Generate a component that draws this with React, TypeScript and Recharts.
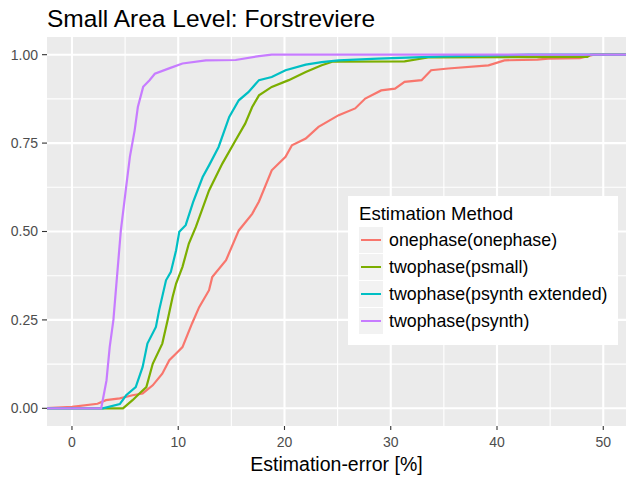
import { CartesianGrid, Legend, Line, LineChart, XAxis, YAxis } from "recharts";

// ECDF curves (x = estimation error in %, y = cumulative share)
const onephaseX = [-3, 0.0, 2.4, 3.2, 4.5, 5.7, 6.65, 7.6, 8.5, 9.16, 9.8, 10.4, 11.3, 11.97, 12.9, 13.2, 14.5, 15.7, 16.96, 17.6, 18.8, 20.1, 20.7, 22.0, 23.2, 25.1, 26.65, 27.6, 29.1, 30.4, 31.3, 32.9, 33.8, 35.4, 39.2, 40.7, 43.8, 44.8, 47.8, 49.1, 53];
const onephaseY = [0, 0.004, 0.013, 0.023, 0.028, 0.037, 0.042, 0.065, 0.098, 0.136, 0.155, 0.173, 0.24, 0.286, 0.334, 0.371, 0.419, 0.503, 0.55, 0.585, 0.673, 0.711, 0.744, 0.763, 0.796, 0.829, 0.848, 0.876, 0.899, 0.904, 0.923, 0.928, 0.956, 0.961, 0.97, 0.984, 0.986, 0.989, 0.99, 1.0, 1.0];

const psmallX = [-3, 4.8, 5.7, 6.35, 7.0, 7.6, 8.5, 9.0, 9.47, 9.8, 10.4, 11.0, 11.66, 12.9, 14.15, 15.4, 16.3, 16.96, 17.6, 18.8, 20.4, 22.0, 23.5, 24.5, 31.3, 33.5, 48.5, 48.8, 53];
const psmallY = [0, 0, 0.023, 0.042, 0.06, 0.126, 0.183, 0.249, 0.315, 0.353, 0.4, 0.466, 0.513, 0.616, 0.692, 0.758, 0.805, 0.852, 0.885, 0.909, 0.928, 0.951, 0.97, 0.98, 0.981, 0.992, 0.994, 1.0, 1.0];

const psynthExtX = [-3, 2.9, 4.5, 5.1, 6.0, 6.65, 7.1, 7.9, 8.2, 8.85, 9.3, 9.8, 10.1, 10.7, 11.4, 12.3, 12.9, 13.8, 14.8, 15.7, 16.6, 17.6, 18.8, 20.1, 22.0, 23.5, 25.1, 28.8, 35, 43, 53];
const psynthExtY = [0, 0, 0.012, 0.037, 0.06, 0.117, 0.183, 0.23, 0.277, 0.362, 0.385, 0.447, 0.499, 0.518, 0.583, 0.654, 0.687, 0.739, 0.824, 0.871, 0.894, 0.928, 0.937, 0.956, 0.972, 0.979, 0.984, 0.989, 0.995, 1.0, 1.0];

const psynthX = [-3, 2.75, 3.25, 3.55, 3.9, 4.6, 5.1, 5.45, 5.9, 6.2, 6.7, 7.3, 7.8, 9.2, 10.4, 12.6, 15.4, 17.6, 18.8, 53];
const psynthY = [0, 0, 0.079, 0.173, 0.25, 0.503, 0.626, 0.711, 0.786, 0.852, 0.909, 0.928, 0.946, 0.962, 0.975, 0.984, 0.985, 0.996, 1.0, 1.0];

const xTicks = [0, 10, 20, 30, 40, 50];
const yTicks = [0, 0.25, 0.5, 0.75, 1];
const xMinor = [5, 15, 25, 35, 45];
const yMinor = [0.125, 0.375, 0.625, 0.875];

const series = [
  { name: "onephase(onephase)", color: "#F8766D", xs: onephaseX, ys: onephaseY },
  { name: "twophase(psmall)", color: "#7CAE00", xs: psmallX, ys: psmallY },
  { name: "twophase(psynth extended)", color: "#00BFC4", xs: psynthExtX, ys: psynthExtY },
  { name: "twophase(psynth)", color: "#C77CFF", xs: psynthX, ys: psynthY },
];

const toRows = (xs: number[], ys: number[]) => xs.map((x, i) => ({ x, y: ys[i] }));

const font = "'Liberation Sans', Arial, Helvetica, sans-serif";

function LegendBox() {
  return (
    <div
      style={{
        background: "#ffffff",
        width: 270,
        height: 149,
        position: "relative",
        fontFamily: font,
      }}
    >
      <div style={{ position: "absolute", left: 11, top: 9, fontSize: 18.6, lineHeight: 1, color: "#000" }}>
        Estimation Method
      </div>
      {series.map((s, i) => (
        <div
          key={s.name}
          style={{
            position: "absolute",
            left: 11,
            top: 31 + i * 27,
            height: 26,
            display: "flex",
            alignItems: "center",
          }}
        >
          <div style={{ width: 24, height: 26, background: "#F2F2F2", position: "relative" }}>
            <div style={{ position: "absolute", left: 2, right: 2, top: 12, height: 2, background: s.color }} />
          </div>
          <span style={{ marginLeft: 6, fontSize: 17.8, color: "#000", whiteSpace: "nowrap" }}>{s.name}</span>
        </div>
      ))}
    </div>
  );
}

export default function App() {
  return (
    <div
      style={{
        position: "absolute",
        left: 0,
        top: 0,
        width: 626,
        height: 477,
        background: "#ffffff",
        fontFamily: font,
      }}
    >
      <div style={{ position: "absolute", left: 47, top: 7, fontSize: 24.5, lineHeight: 1, color: "#000" }}>
        Small Area Level: Forstreviere
      </div>
      <LineChart width={626} height={477} margin={{ top: 37, right: 0, bottom: 0, left: 0 }}>
        <CartesianGrid
          fill="#EBEBEB"
          stroke="#ffffff"
          strokeWidth={1.1}
          verticalValues={xMinor}
          horizontalValues={yMinor}
        />
        <CartesianGrid stroke="#ffffff" strokeWidth={2.1} verticalValues={xTicks} horizontalValues={yTicks} />
        <XAxis
          dataKey="x"
          type="number"
          domain={[-2.35, 52.14]}
          allowDataOverflow
          ticks={xTicks}
          axisLine={false}
          tickSize={4}
          tickMargin={7}
          tickLine={{ stroke: "#333333", strokeWidth: 1.1 }}
          tick={{ fill: "#4D4D4D", fontSize: 14 }}
          height={51}
          label={{ value: "Estimation-error [%]", position: "insideBottom", offset: 6, fill: "#000", fontSize: 19.5 }}
        />
        <YAxis
          type="number"
          domain={[-0.05, 1.05]}
          allowDataOverflow
          ticks={yTicks}
          tickFormatter={(v: number) => v.toFixed(2)}
          axisLine={false}
          tickSize={5}
          tickMargin={4}
          tickLine={{ stroke: "#333333", strokeWidth: 1.1 }}
          tick={{ fill: "#4D4D4D", fontSize: 14 }}
          width={47}
        />
        {series.map((s) => (
          <Line
            key={s.name}
            data={toRows(s.xs, s.ys)}
            dataKey="y"
            name={s.name}
            type="linear"
            stroke={s.color}
            strokeWidth={2.2}
            dot={false}
            activeDot={false}
            isAnimationActive={false}
          />
        ))}
        <Legend
          layout="vertical"
          align="center"
          verticalAlign="middle"
          content={() => <LegendBox />}
          wrapperStyle={{ left: 348, top: 196, width: 270, height: 149 }}
        />
      </LineChart>
    </div>
  );
}
